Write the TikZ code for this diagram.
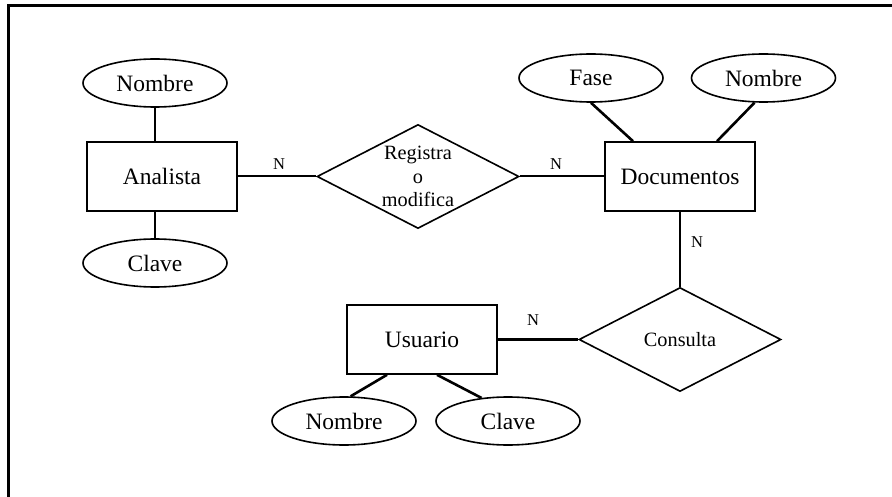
\documentclass[tikz,border=0pt]{standalone}
\usepackage{fontspec}
\setmainfont{Liberation Serif}
\usetikzlibrary{shapes.geometric}
\begin{document}
\begin{tikzpicture}[x=1pt,y=-1pt,
  entity/.style={draw, line width=1.6pt, rectangle, minimum width=150pt, minimum height=69pt, inner sep=0pt, font=\fontsize{23.5}{26}\selectfont},
  attr/.style={draw, line width=1.6pt, ellipse, minimum width=144pt, minimum height=48pt, inner sep=0pt, font=\fontsize{23.5}{26}\selectfont},
  rel/.style={draw, line width=1.6pt, diamond, aspect=1.94, minimum width=202pt, minimum height=104pt, inner sep=0pt},
  reltext/.style={align=center, font=\fontsize{20.3}{23.5}\selectfont, inner sep=0pt},
  card/.style={font=\fontsize{16.5}{18}\selectfont, inner sep=0pt},
  link/.style={line width=2pt},
  attrlink/.style={line width=2.6pt},
  frame/.style={line width=3pt}
]
\useasboundingbox (0,0) rectangle (892,497);
\draw[frame] (8.5,497) -- (8.5,5.5) -- (892,5.5);

% entities
\node[entity] (ana) at (162,176.5) {Analista};
\node[entity] (doc) at (680,176.5) {Documentos};
\node[entity] (usr) at (422,339.5) {Usuario};

% relationships
\node[rel, label={[reltext]center:Registra\\o\\modifica}] (reg) at (418,176.5) {};
\node[rel, label={[reltext]center:Consulta}] (cons) at (680,339.5) {};

% attributes
\node[attr] (nom1) at (155,83) {Nombre};
\node[attr] (clave1) at (155,263) {Clave};
\node[attr] (fase) at (591,78) {Fase};
\node[attr] (nom2) at (763.5,78) {Nombre};
\node[attr] (nom3) at (344,421) {Nombre};
\node[attr] (clave3) at (508,421) {Clave};

% relationship connectors
\draw[link] (ana.east) -- (reg.west);
\draw[link] (reg.east) -- (doc.west);
\draw[link] (doc.south) -- (cons.north);
\draw[attrlink] (usr.east) -- (cons.west);

% attribute connectors
\draw[attrlink] (nom1.south) -- (nom1.south |- ana.north);
\draw[attrlink] (clave1.north) -- (clave1.north |- ana.south);
\draw[attrlink] (fase.south) -- ([xshift=-47pt]doc.north);
\draw[attrlink] (nom2.250) -- ([xshift=37pt]doc.north);
\draw[attrlink] ([xshift=-35pt]usr.south) -- (nom3.75);
\draw[attrlink] ([xshift=15pt]usr.south) -- (clave3.139);

% cardinalities
\node[card] (n1) at (279,164) {N};
\node[card] (n2) at (556,164) {N};
\node[card] (n3) at (697,242) {N};
\node[card] (n4) at (533,320) {N};
\end{tikzpicture}
\end{document}
